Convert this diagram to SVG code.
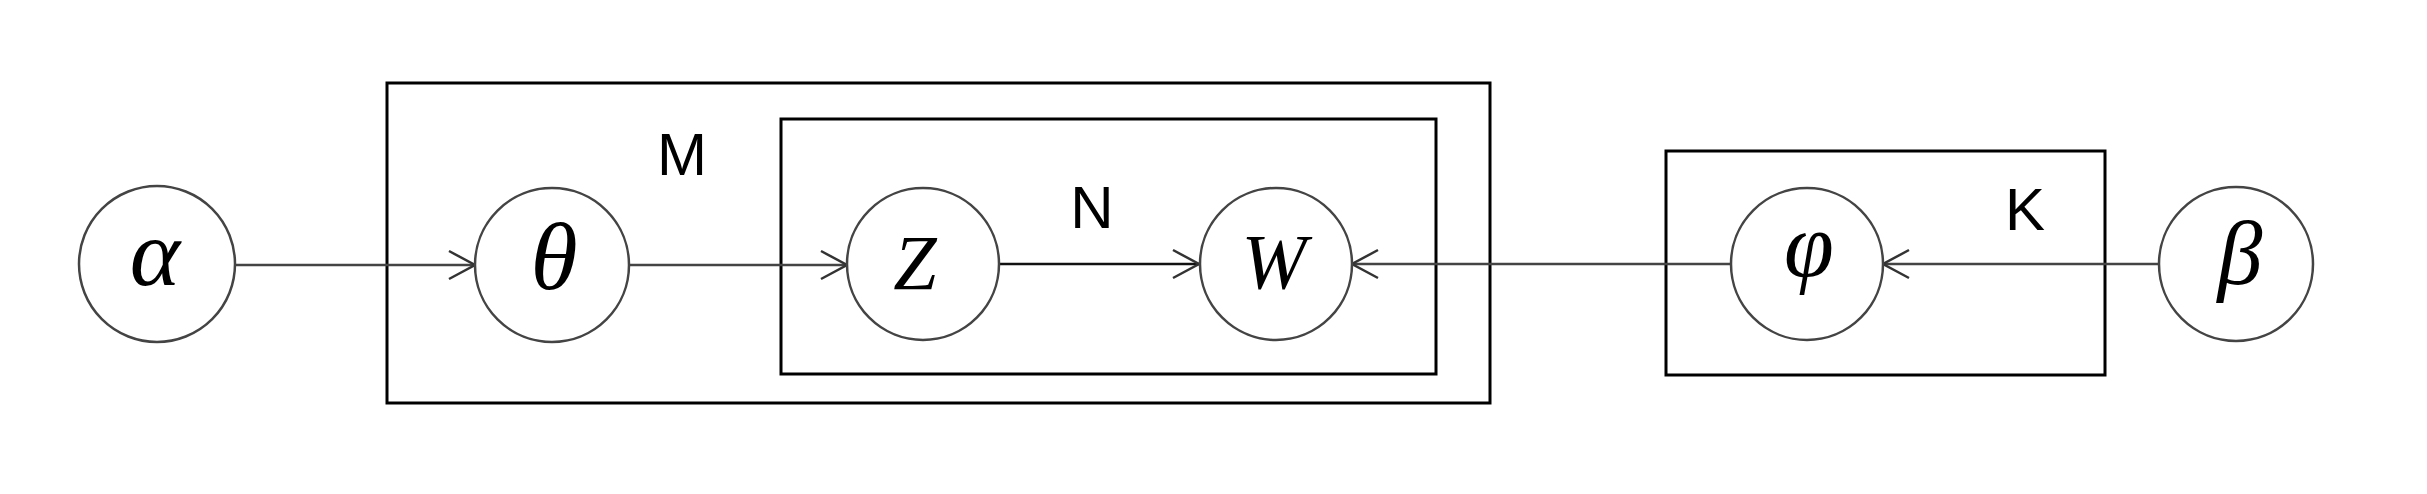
<svg xmlns="http://www.w3.org/2000/svg" width="2427" height="494" viewBox="0 0 2427 494">
<style>
.plate{fill:none;stroke:#000;stroke-width:3}
.node{fill:#fff;stroke:#444;stroke-width:2.5}
.sym{font-family:"Liberation Serif","DejaVu Serif",serif;font-style:italic;text-anchor:middle;fill:#000}
.lbl{font-family:"Liberation Sans",Arial,sans-serif;font-size:60px;text-anchor:middle;fill:#000}
.edge{stroke:#444;stroke-width:2.5;fill:none}
.head{stroke:#333;stroke-width:2.5;fill:none}
</style>
<rect width="2427" height="494" fill="#fff"/>
<g id="plate-M"><rect class="plate" x="387" y="83" width="1103" height="320"/><text class="lbl" x="682" y="175">M</text></g>
<g id="plate-N"><rect class="plate" x="781" y="119" width="655" height="255"/><text class="lbl" x="1092" y="228">N</text></g>
<g id="plate-K"><rect class="plate" x="1666" y="151" width="439" height="224"/><text class="lbl" x="2025" y="230">K</text></g>
<g id="connectors">
<line class="edge" x1="236" y1="265" x2="475" y2="265"/>
<polyline class="head" points="449,251 475,265 449,279"/>
<line class="edge" x1="628" y1="265" x2="847" y2="265"/>
<polyline class="head" points="821,251 847,265 821,279"/>
<line class="edge" x1="999" y1="264" x2="1199" y2="264" style="stroke:#111"/>
<polyline class="head" points="1173,250 1199,264 1173,278"/>
<line class="edge" x1="1731" y1="264" x2="1352" y2="264"/>
<polyline class="head" points="1378,250 1352,264 1378,278"/>
<line class="edge" x1="2158" y1="264" x2="1883" y2="264"/>
<polyline class="head" points="1909,250 1883,264 1909,278"/>
</g>
<g id="node-alpha"><circle class="node" cx="157" cy="264" r="78"/><text class="sym" x="155" y="285" font-size="96">α</text></g>
<g id="node-theta"><circle class="node" cx="552" cy="265" r="77"/><text class="sym" x="554" y="289" font-size="96">θ</text></g>
<g id="node-Z"><circle class="node" cx="923" cy="264" r="76"/><text class="sym" x="915" y="289" font-size="78">Z</text></g>
<g id="node-W"><circle class="node" cx="1276" cy="264" r="76"/><text class="sym" x="1274" y="288" font-size="78">W</text></g>
<g id="node-phi"><circle class="node" cx="1807" cy="264" r="76"/><text class="sym" x="1809" y="276" font-size="90">φ</text></g>
<g id="node-beta"><circle class="node" cx="2236" cy="264" r="77"/><text class="sym" x="2240" y="284" font-size="90">β</text></g>
</svg>
